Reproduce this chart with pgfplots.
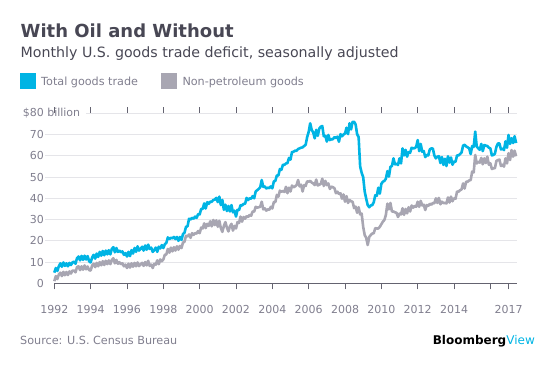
\documentclass[border=0pt]{standalone}
\usepackage{pgfplots}
\pgfplotsset{compat=1.18}
\usepackage{pgfplotstable}
\usepackage{fontspec}
\setmainfont{DejaVu Sans}
\definecolor{bcyan}{RGB}{0,180,228}
\definecolor{bgray}{RGB}{168,166,178}
\definecolor{txtgray}{RGB}{128,126,142}
\definecolor{titlec}{RGB}{72,71,84}
\definecolor{gridc}{RGB}{229,229,233}
\definecolor{axisc}{RGB}{100,99,112}
\pgfplotstableread[row sep=\\]{
tot non\\
5.0 1.0\\7.2 3.4\\5.8 2.0\\8.0 4.2\\9.4 5.0\\7.8 3.4\\9.8 5.4\\8.2 3.8\\9.4 5.3\\8.0 3.9\\9.6 5.6\\8.6 4.6\\
9.8 6.0\\10.2 6.0\\9.2 5.2\\11.8 7.6\\12.6 8.0\\10.8 6.2\\12.9 8.0\\11.0 6.4\\13.0 8.4\\11.2 6.6\\12.8 7.9\\10.4 6.2\\
9.8 6.0\\12.2 8.4\\13.4 9.2\\11.6 7.6\\14.0 9.6\\12.4 8.0\\14.8 10.0\\13.0 8.5\\15.2 10.4\\13.2 8.6\\15.4 10.6\\13.6 9.0\\
15.6 10.8\\13.6 9.0\\16.2 11.0\\17.0 11.8\\14.6 9.4\\16.6 11.0\\14.8 9.2\\15.4 9.9\\14.6 9.0\\15.0 9.4\\13.4 8.0\\14.2 8.8\\
12.6 7.2\\14.8 9.2\\12.8 7.4\\15.6 9.4\\14.0 7.8\\16.6 9.6\\14.8 8.0\\17.4 9.8\\15.4 8.1\\16.2 8.9\\17.2 9.6\\15.4 8.2\\
17.8 10.0\\15.8 8.4\\18.2 10.6\\16.2 8.2\\16.8 8.8\\14.8 7.2\\15.6 9.2\\16.8 8.8\\14.8 10.8\\17.2 9.0\\16.4 11.2\\18.0 10.4\\
16.6 11.2\\18.4 13.4\\19.0 13.6\\21.6 16.2\\20.8 14.4\\21.4 16.8\\21.2 15.0\\21.8 17.0\\20.8 15.4\\21.8 17.4\\20.0 15.8\\21.8 17.6\\
20.4 16.6\\23.2 19.2\\23.8 19.6\\26.6 22.4\\26.8 22.0\\30.4 23.0\\30.0 21.4\\30.8 23.6\\30.4 22.8\\31.4 23.6\\30.8 23.4\\32.6 24.6\\
32.4 23.6\\35.0 26.2\\35.0 25.8\\37.6 28.2\\35.2 26.0\\38.2 28.0\\37.4 27.0\\38.4 29.2\\38.4 26.8\\39.2 29.8\\39.4 27.4\\40.2 29.6\\
38.2 26.6\\40.8 29.4\\36.8 26.0\\39.2 24.2\\34.6 27.0\\37.0 28.8\\34.0 26.2\\36.4 24.4\\33.8 26.8\\36.8 28.0\\33.4 24.8\\34.2 27.0\\
31.4 25.8\\34.6 28.8\\34.4 28.4\\36.8 31.4\\36.6 29.0\\37.4 31.2\\37.4 30.4\\40.2 31.6\\39.2 31.2\\40.0 32.2\\39.8 31.8\\41.0 33.8\\
40.0 33.7\\43.2 36.0\\43.8 35.6\\44.4 35.8\\45.2 36.0\\48.6 38.4\\45.4 34.8\\45.6 35.3\\44.6 34.2\\45.0 34.8\\44.8 34.6\\45.6 36.0\\
44.7 35.2\\48.0 38.3\\48.2 38.2\\50.8 41.6\\50.7 40.8\\53.8 43.6\\53.4 43.1\\55.8 43.4\\55.7 43.0\\56.4 45.4\\56.6 42.4\\59.0 45.0\\
58.2 43.2\\61.8 46.0\\61.9 45.2\\62.4 45.6\\62.4 46.2\\63.2 48.6\\63.5 45.6\\63.8 46.4\\64.0 43.2\\64.6 46.2\\65.2 45.8\\68.8 48.0\\
71.2 47.8\\75.3 48.2\\72.2 47.4\\71.0 47.0\\68.2 46.2\\72.2 48.8\\69.4 46.0\\72.8 46.4\\73.7 46.8\\74.0 49.2\\69.2 45.8\\69.4 48.2\\
66.7 46.2\\69.8 47.0\\67.4 44.4\\67.8 45.5\\67.8 45.2\\68.8 44.8\\68.4 42.4\\69.0 43.1\\66.6 42.0\\70.2 42.4\\69.2 39.8\\70.0 41.8\\
70.5 38.4\\73.2 41.0\\70.2 37.8\\75.3 39.2\\72.4 38.6\\76.0 38.4\\76.0 35.4\\74.8 36.1\\70.2 33.2\\68.8 35.8\\55.0 32.4\\52.0 32.8\\
50.0 26.6\\43.2 22.7\\39.8 21.4\\36.8 18.0\\35.8 21.8\\36.6 22.7\\36.8 23.4\\38.2 23.6\\41.4 26.0\\41.2 25.8\\45.0 25.8\\42.2 26.6\\
46.8 27.8\\47.8 29.0\\48.2 29.8\\49.2 32.2\\52.8 37.5\\50.2 34.8\\54.8 37.8\\55.2 33.8\\58.8 33.8\\56.0 33.4\\56.2 33.2\\55.7 31.2\\
58.8 32.8\\56.4 32.4\\63.5 35.3\\60.2 32.2\\62.8 35.0\\59.6 32.9\\61.8 35.8\\61.4 33.8\\63.8 36.6\\63.5 35.6\\63.6 36.4\\64.2 36.0\\
67.4 38.4\\62.2 36.0\\65.6 38.8\\61.9 36.6\\62.2 37.0\\59.4 34.5\\60.4 36.8\\60.2 36.4\\63.0 37.4\\63.5 37.0\\63.4 37.8\\60.2 37.6\\
58.8 40.0\\59.6 37.8\\59.8 40.2\\56.6 37.2\\59.4 38.4\\55.7 37.8\\58.6 37.8\\55.2 37.6\\59.8 40.4\\56.8 38.0\\59.2 40.8\\55.8 38.6\\
57.3 40.0\\57.2 39.8\\60.2 43.2\\60.2 43.1\\60.8 43.8\\61.6 44.2\\64.8 47.0\\65.2 44.6\\64.4 47.8\\64.0 47.8\\63.5 48.4\\60.8 48.6\\
64.6 52.6\\64.2 52.2\\71.4 60.4\\64.4 56.4\\63.5 57.2\\62.8 56.8\\65.6 59.0\\62.2 56.0\\65.1 58.8\\64.8 56.6\\64.6 59.6\\63.8 55.8\\
63.5 56.5\\60.2 53.8\\60.4 54.1\\61.0 54.2\\64.2 57.6\\65.8 58.0\\65.8 58.2\\63.0 55.2\\63.4 55.8\\62.7 54.9\\66.8 58.8\\63.8 56.4\\
69.8 61.2\\65.6 58.0\\68.3 62.7\\66.0 59.6\\69.2 62.4\\66.0 59.8\\
}\data
\begin{document}
\begin{tikzpicture}
\path[use as bounding box] (0,0) rectangle (557pt,-366pt);
\node[anchor=base west, inner sep=0, font=\bfseries\fontsize{18}{20}\selectfont, text=titlec] at (20.5pt,-37.7pt) {With Oil and Without};
\node[anchor=base west, inner sep=0, font=\fontsize{14.2}{16}\selectfont, text=titlec] at (20.5pt,-58pt) {Monthly U.S. goods trade deficit, seasonally adjusted};
\fill[bcyan] (20pt,-73pt) rectangle (35.7pt,-88.7pt);
\node[anchor=base west, inner sep=0, font=\fontsize{11.2}{13}\selectfont, text=txtgray] at (41pt,-85.3pt) {Total goods trade};
\fill[bgray] (161pt,-73pt) rectangle (176.7pt,-88.7pt);
\node[anchor=base west, inner sep=0, font=\fontsize{11.2}{13}\selectfont, text=txtgray] at (182.3pt,-85.3pt) {Non-petroleum goods};
\node[anchor=base west, inner sep=0, font=\fontsize{11.2}{13}\selectfont, text=txtgray] at (20pt,-344pt) {Source: U.S. Census Bureau};
\node[anchor=base east, inner sep=0, font=\fontsize{12}{14}\selectfont] at (535pt,-344pt) {\textbf{Bloomberg}\textcolor{bcyan}{View}};
\begin{axis}[
  at={(45pt,-283.3pt)}, anchor=south west,
  scale only axis, width=471.7pt, height=170pt,
  xmin=1991.488, xmax=2017.45, ymin=0, ymax=80,
  clip=false,
  axis line style={draw=none},
  ytick={0,10,...,80},
  yticklabels={0,10,20,30,40,50,60,70,\$80\rlap{ billion}},
  ytick style={draw=none},
  yticklabel style={anchor=east, inner sep=0pt, xshift=-1pt, font=\fontsize{11}{13}\selectfont, text=txtgray},
  xtick={1992,1994,1996,1998,2000,2002,2004,2006,2008,2010,2012,2014,2016,2017},
  xticklabels={1992,1994,1996,1998,2000,2002,2004,2006,2008,2010,2012,2014,,2017},
  xtick align=outside,
  major tick length=6pt,
  xtick style={axisc, line width=0.8pt},
  xticklabel style={anchor=north, inner sep=0pt, yshift=-15.7pt, font=\fontsize{11}{13}\selectfont, text=txtgray},
]
\foreach \g in {10,20,...,70}{
  \edef\temp{\noexpand\draw[gridc, line width=0.9pt] (axis cs:1991.488,\g) -- (axis cs:2017.45,\g);}
  \temp
}
\draw[gridc, line width=0.9pt] (axis cs:1993.745,80) -- (axis cs:2017.45,80);
\draw[axisc, line width=0.9pt] (axis cs:1992,0) -- (axis cs:2017.45,0);
\addplot[bgray, line width=2.6pt, line join=round] table[x expr=1992+\coordindex/12, y=non] {\data};
\addplot[bcyan, line width=2.6pt, line join=round] table[x expr=1992+\coordindex/12, y=tot] {\data};
\end{axis}
\end{tikzpicture}
\end{document}
